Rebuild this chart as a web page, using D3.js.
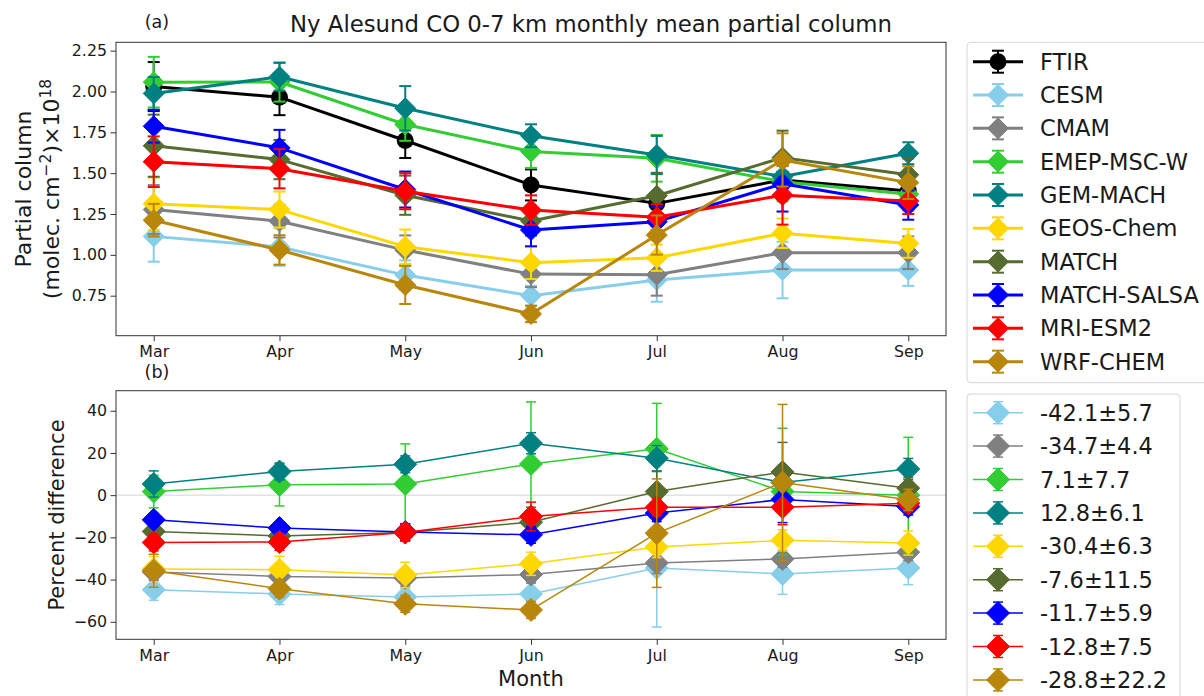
<!DOCTYPE html>
<html>
<head>
<meta charset="utf-8">
<script src="https://cdn.jsdelivr.net/npm/d3@7"></script>
<style>
  body { margin: 0; background: #fff; }
  svg { display: block; font-family: "DejaVu Sans", sans-serif; }
</style>
</head>
<body>
<svg id="chart" width="1204" height="696"></svg>
<script>
// ---- data ----
const months = ["Mar", "Apr", "May", "Jun", "Jul", "Aug", "Sep"];
const seriesNames = ["FTIR", "CESM", "CMAM", "EMEP-MSC-W", "GEM-MACH", "GEOS-Chem",
                     "MATCH", "MATCH-SALSA", "MRI-ESM2", "WRF-CHEM"];

// panel (a): 0-7 km partial column, x 10^18 molec. cm^-2
const ftirCol   = [2.030, 1.965, 1.700, 1.428, 1.315, 1.458, 1.391];
const ftirErr   = [0.150, 0.110, 0.107, 0.095, 0.060, 0.050, 0.050];
const cesmCol   = [1.113, 1.048, 0.876, 0.750, 0.846, 0.907, 0.907];
const cesmErr   = [0.155, 0.115, 0.090, 0.060, 0.133, 0.173, 0.097];
const cmamCol   = [1.277, 1.206, 1.029, 0.882, 0.878, 1.013, 1.013];
const cmamErr   = [0.150, 0.100, 0.090, 0.080, 0.128, 0.100, 0.100];
const emepCol   = [2.057, 2.058, 1.798, 1.632, 1.591, 1.448, 1.371];
const emepErr   = [0.155, 0.120, 0.100, 0.100, 0.143, 0.120, 0.100];
const gemCol    = [1.988, 2.090, 1.897, 1.729, 1.611, 1.479, 1.622];
const gemErr    = [0.100, 0.085, 0.136, 0.070, 0.117, 0.080, 0.067];
const geosCol   = [1.313, 1.277, 1.050, 0.952, 0.982, 1.132, 1.070];
const geosErr   = [0.160, 0.110, 0.105, 0.100, 0.080, 0.090, 0.088];
const matchCol  = [1.668, 1.583, 1.365, 1.207, 1.362, 1.595, 1.490];
const matchErr  = [0.190, 0.120, 0.120, 0.090, 0.140, 0.165, 0.100];
const salsaCol  = [1.787, 1.655, 1.400, 1.152, 1.203, 1.435, 1.305];
const salsaErr  = [0.100, 0.110, 0.110, 0.100, 0.090, 0.170, 0.090];
const mriCol    = [1.570, 1.527, 1.389, 1.274, 1.230, 1.365, 1.330];
const mriErr    = [0.155, 0.120, 0.110, 0.090, 0.080, 0.180, 0.080];
const wrfCol    = [1.212, 1.030, 0.815, 0.638, 1.121, 1.581, 1.442];
const wrfErr    = [0.100, 0.090, 0.116, 0.050, 0.120, 0.163, 0.100];

// panel (b): percent difference of each model from FTIR
const cesmPct   = [-44.8, -46.8, -48.2, -46.8, -34.5, -37.3, -34.5];
const cesmPctErr= [5.0, 5.0, 4.0, 5.0, 28.0, 9.7, 7.9];
const cmamPct   = [-36.4, -38.5, -39.2, -37.6, -32.1, -30.2, -27.0];
const cmamPctErr= [4.0, 4.0, 4.0, 4.0, 5.0, 4.0, 4.0];
const emepPct   = [1.7, 4.9, 5.3, 14.8, 22.0, 1.7, 0.0];
const emepPctErr= [7.7, 10.0, 19.0, 29.4, 21.5, 30.0, 27.4];
const gemPct    = [5.3, 11.2, 14.6, 24.6, 17.5, 6.0, 12.4];
const gemPctErr = [6.2, 4.0, 4.0, 5.0, 6.0, 8.0, 5.0];
const geosPct   = [-35.0, -35.3, -37.8, -32.5, -24.6, -21.4, -22.7];
const geosPctErr= [6.0, 6.3, 6.0, 5.5, 5.0, 5.0, 5.7];
const matchPct  = [-17.2, -19.3, -17.7, -12.8, 1.7, 11.0, 3.3];
const matchPctErr=[4.0, 4.0, 4.0, 7.1, 9.5, 14.0, 5.0];
const salsaPct  = [-11.7, -15.6, -17.5, -18.8, -8.5, -2.0, -5.4];
const salsaPctErr=[3.0, 3.0, 4.0, 4.0, 4.0, 11.0, 4.0];
const mriPct    = [-22.4, -22.2, -17.7, -10.1, -5.7, -5.7, -3.8];
const mriPctErr = [4.0, 4.0, 4.0, 6.8, 4.0, 8.3, 4.0];
const wrfPct    = [-35.8, -44.3, -51.5, -54.4, -18.0, 6.0, -2.2];
const wrfPctErr = [7.8, 4.0, 4.0, 4.0, 25.7, 37.0, 5.0];

const pctLabels = ["-42.1\u00b15.7", "-34.7\u00b14.4", "7.1\u00b17.7", "12.8\u00b16.1",
                   "-30.4\u00b16.3", "-7.6\u00b111.5", "-11.7\u00b15.9", "-12.8\u00b17.5",
                   "-28.8\u00b122.2"];

const colTicks = [0.75, 1.00, 1.25, 1.50, 1.75, 2.00, 2.25];
const pctTicks = [-60, -40, -20, 0, 20, 40];

// ---- styles ----
const colors = {
  "FTIR": "#000000", "CESM": "#87ceeb", "CMAM": "#808080", "EMEP-MSC-W": "#32cd32",
  "GEM-MACH": "#008080", "GEOS-Chem": "#ffd700", "MATCH": "#556b2f",
  "MATCH-SALSA": "#0000ff", "MRI-ESM2": "#ff0000", "WRF-CHEM": "#b8860b"
};

const topSeries = [
  ["FTIR", ftirCol, ftirErr], ["CESM", cesmCol, cesmErr], ["CMAM", cmamCol, cmamErr],
  ["EMEP-MSC-W", emepCol, emepErr], ["GEM-MACH", gemCol, gemErr], ["GEOS-Chem", geosCol, geosErr],
  ["MATCH", matchCol, matchErr], ["MATCH-SALSA", salsaCol, salsaErr], ["MRI-ESM2", mriCol, mriErr],
  ["WRF-CHEM", wrfCol, wrfErr]
].map(([name, v, e]) => ({ name, values: v, errors: e }));

const botSeries = [
  ["CESM", cesmPct, cesmPctErr], ["CMAM", cmamPct, cmamPctErr], ["EMEP-MSC-W", emepPct, emepPctErr],
  ["GEM-MACH", gemPct, gemPctErr], ["GEOS-Chem", geosPct, geosPctErr], ["MATCH", matchPct, matchPctErr],
  ["MATCH-SALSA", salsaPct, salsaPctErr], ["MRI-ESM2", mriPct, mriPctErr], ["WRF-CHEM", wrfPct, wrfPctErr]
].map(([name, v, e]) => ({ name, values: v, errors: e }));

// ---- layout ----
const svg = d3.select("#chart");
const left = 116, right = 946;
const topBox = { y0: 42.3, y1: 335.7 };
const botBox = { y0: 390.7, y1: 639.3 };

const x = d3.scaleLinear().domain([-0.3, 6.3]).range([left, right]);
const yTop = d3.scaleLinear().domain([0.505, 2.301]).range([topBox.y1, topBox.y0]);
const yBot = d3.scaleLinear().domain([-68.3, 49.5]).range([botBox.y1, botBox.y0]);

const tickFont = "15.8px";
const textColor = "#1a1a1a";

function diamondPath(cx, cy, r) {
  return `M${cx},${cy - r}L${cx + r},${cy}L${cx},${cy + r}L${cx - r},${cy}Z`;
}

function drawAxes(g, yScale, yTicks, yFormat, box) {
  const ya = g.append("g").attr("transform", `translate(${left},0)`)
    .call(d3.axisLeft(yScale).tickValues(yTicks).tickFormat(yFormat)
      .tickSize(5.5).tickPadding(3.5).tickSizeOuter(0));
  const xa = g.append("g").attr("transform", `translate(0,${box.y1})`)
    .call(d3.axisBottom(x).tickValues(d3.range(months.length)).tickFormat(i => months[i])
      .tickSize(5.5).tickPadding(5).tickSizeOuter(0));
  [ya, xa].forEach(a => {
    a.select(".domain").remove();
    a.selectAll("line").attr("stroke", "#333").attr("stroke-width", 1);
    a.selectAll("text").attr("fill", textColor).style("font-size", tickFont)
      .style("font-family", "DejaVu Sans, sans-serif");
  });
  g.append("rect").attr("x", left).attr("y", box.y0)
    .attr("width", right - left).attr("height", box.y1 - box.y0)
    .attr("fill", "none").attr("stroke", "#333").attr("stroke-width", 1);
}

function drawSeries(g, series, yScale, opt) {
  series.forEach(s => {
    const c = colors[s.name];
    const sg = g.append("g");
    // error bars
    s.values.forEach((v, i) => {
      const cx = x(i), lo = yScale(v - s.errors[i]), hi = yScale(v + s.errors[i]);
      sg.append("line").attr("x1", cx).attr("x2", cx).attr("y1", lo).attr("y2", hi)
        .attr("stroke", c).attr("stroke-width", opt.errWidth);
      [lo, hi].forEach(yy => sg.append("line")
        .attr("x1", cx - opt.cap).attr("x2", cx + opt.cap).attr("y1", yy).attr("y2", yy)
        .attr("stroke", c).attr("stroke-width", opt.errWidth));
    });
    // connecting line
    sg.append("path").datum(s.values)
      .attr("d", d3.line().x((d, i) => x(i)).y(d => yScale(d)))
      .attr("fill", "none").attr("stroke", c).attr("stroke-width", opt.lineWidth)
      .attr("stroke-linejoin", "round");
    // markers
    s.values.forEach((v, i) => {
      if (s.name === "FTIR") {
        sg.append("circle").attr("cx", x(i)).attr("cy", yScale(v)).attr("r", opt.circleR)
          .attr("fill", c);
      } else {
        sg.append("path").attr("d", diamondPath(x(i), yScale(v), opt.diamondR))
          .attr("fill", c).attr("stroke", c).attr("stroke-width", 1);
      }
    });
  });
}

// ---- panel (a) ----
const gTop = svg.append("g");
drawAxes(gTop, yTop, colTicks, d3.format(".2f"), topBox);
drawSeries(gTop, topSeries, yTop, { lineWidth: 3, errWidth: 2, cap: 6, diamondR: 10.5, circleR: 8.5 });

svg.append("text").attr("x", 591).attr("y", 31.5).attr("text-anchor", "middle")
  .style("font-size", "22.8px").attr("fill", textColor)
  .text("Ny Alesund CO 0-7 km monthly mean partial column");
svg.append("text").attr("x", 157).attr("y", 28).attr("text-anchor", "middle")
  .style("font-size", "17.5px").attr("fill", textColor).text("(a)");

const yLabTop = svg.append("text").attr("transform", "rotate(-90)")
  .attr("text-anchor", "middle").style("font-size", "22px").attr("fill", textColor);
yLabTop.append("tspan").attr("x", -189).attr("y", 31).text("Partial column");
const line2 = yLabTop.append("tspan").attr("x", -189).attr("y", 59);
line2.append("tspan").text("(molec. cm");
line2.append("tspan").attr("dy", -8).style("font-size", "15.5px").text("\u22122");
line2.append("tspan").attr("dy", 8).text(")\u00d710");
line2.append("tspan").attr("dy", -8).style("font-size", "15.5px").text("18");

// ---- panel (b) ----
const gBot = svg.append("g");
gBot.append("line").attr("x1", left).attr("x2", right)
  .attr("y1", yBot(0)).attr("y2", yBot(0)).attr("stroke", "#d3d3d3").attr("stroke-width", 1);
drawAxes(gBot, yBot, pctTicks, d => d3.format("d")(d).replace("-", "\u2212"), botBox);
drawSeries(gBot, botSeries, yBot, { lineWidth: 1.5, errWidth: 1.5, cap: 5, diamondR: 11.5, circleR: 8 });

svg.append("text").attr("x", 157).attr("y", 378).attr("text-anchor", "middle")
  .style("font-size", "17.5px").attr("fill", textColor).text("(b)");
svg.append("text").attr("transform", "rotate(-90)").attr("x", -515).attr("y", 64)
  .attr("text-anchor", "middle").style("font-size", "21px").attr("fill", textColor)
  .text("Percent difference");
svg.append("text").attr("x", 531).attr("y", 686).attr("text-anchor", "middle")
  .style("font-size", "21px").attr("fill", textColor).text("Month");

// ---- legends ----
function drawLegend(box, entries, rowY0, rowStep, opt) {
  const lg = svg.append("g");
  lg.append("rect").attr("x", box.x).attr("y", box.y).attr("width", box.w).attr("height", box.h)
    .attr("rx", 4).attr("fill", "#fff").attr("stroke", "#d6d6d6").attr("stroke-width", 1);
  entries.forEach((e, i) => {
    const cy = rowY0 + i * rowStep, c = colors[e.name];
    lg.append("line").attr("x1", 973).attr("x2", 1023).attr("y1", cy).attr("y2", cy)
      .attr("stroke", c).attr("stroke-width", opt.lineWidth);
    lg.append("line").attr("x1", 998).attr("x2", 998).attr("y1", cy - 11).attr("y2", cy + 11)
      .attr("stroke", c).attr("stroke-width", opt.errWidth);
    [cy - 11, cy + 11].forEach(yy => lg.append("line").attr("x1", 998 - opt.cap).attr("x2", 998 + opt.cap)
      .attr("y1", yy).attr("y2", yy).attr("stroke", c).attr("stroke-width", opt.errWidth));
    if (e.name === "FTIR") {
      lg.append("circle").attr("cx", 998).attr("cy", cy).attr("r", 8.5).attr("fill", c);
    } else {
      lg.append("path").attr("d", diamondPath(998, cy, opt.diamondR))
        .attr("fill", c).attr("stroke", c).attr("stroke-width", 1);
    }
    lg.append("text").attr("x", 1040).attr("y", cy).attr("dy", "0.36em")
      .style("font-size", "22.5px").attr("fill", textColor).text(e.label);
  });
}

drawLegend({ x: 967, y: 42.3, w: 260, h: 340.4 },
  seriesNames.map(n => ({ name: n, label: n })), 61.7, 33.33,
  { lineWidth: 3, errWidth: 2, cap: 6, diamondR: 10.5 });

drawLegend({ x: 967, y: 394, w: 213, h: 330 },
  seriesNames.slice(1).map((n, i) => ({ name: n, label: pctLabels[i] })), 412.7, 33.4,
  { lineWidth: 1.5, errWidth: 1.5, cap: 5, diamondR: 11.5 });
</script>
</body>
</html>
